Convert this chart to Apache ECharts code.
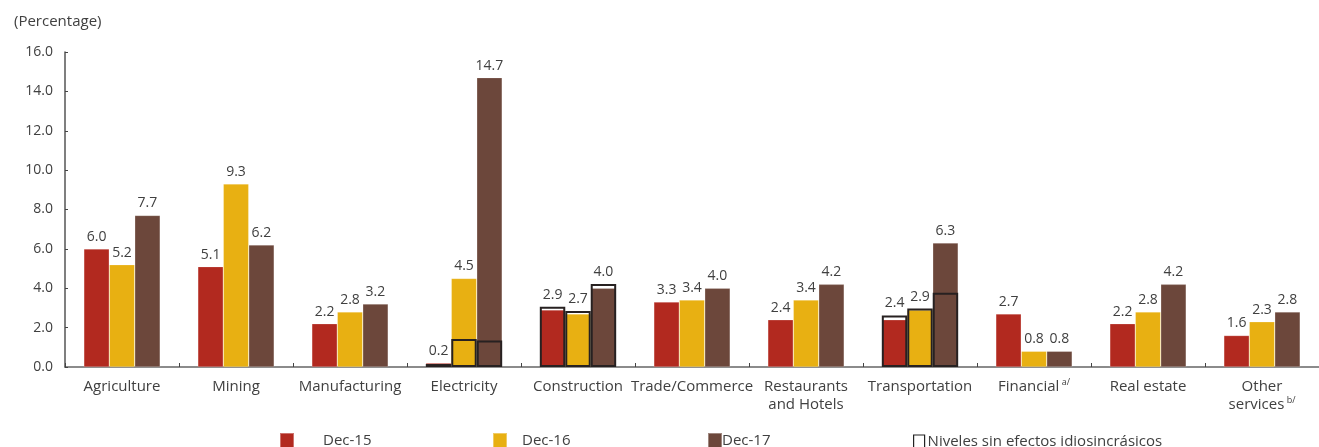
<!DOCTYPE html>
<html>
<head>
<meta charset="utf-8">
<script src="https://cdn.jsdelivr.net/npm/echarts@6/dist/echarts.min.js"></script>
<style>
  html, body { margin: 0; padding: 0; background: #fff; }
  #chart { width: 1319px; height: 447px; }
</style>
</head>
<body>
<div id="chart"></div>
<script>
// Sector categories (rich-text markers add the footnote superscripts)
var categories = [
  'Agriculture', 'Mining', 'Manufacturing', 'Electricity', 'Construction',
  'Trade/Commerce', 'Restaurants\nand Hotels', 'Transportation',
  'Financial{sup| a/}', 'Real estate', 'Other\nservices{sup| b/}'
];

// Percentage values per period
var dec15 = [6.0, 5.1, 2.2, 0.2, 2.9, 3.3, 2.4, 2.4, 2.7, 2.2, 1.6];
var dec16 = [5.2, 9.3, 2.8, 4.5, 2.7, 3.4, 3.4, 2.9, 0.8, 2.8, 2.3];
var dec17 = [7.7, 6.2, 3.2, 14.7, 4.0, 4.0, 4.2, 6.3, 0.8, 4.2, 2.8];

// Levels without idiosyncratic effects (only for some sectors)
var base15 = ['-', '-', '-', 0.15, 3.06, '-', '-', 2.62, '-', '-', '-'];
var base16 = ['-', '-', '-', 1.42, 2.84, '-', '-', 2.97, '-', '-', '-'];
var base17 = ['-', '-', '-', 1.34, 4.21, '-', '-', 3.77, '-', '-', '-'];

var yTicks = { min: 0, max: 16, interval: 2 };

var FONT = '"Open Sans", "Noto Sans", sans-serif';
var TXT = '#404040';
var colors = ['#B2291F', '#E8B012', '#6C473B'];
var boxName = 'Niveles sin efectos idiosincrásicos';

function fmt(v) { return Number(v).toFixed(1); }

// Bar label shown only when the bar is taller than its outline box
function barLabel(vals, box) {
  return function (p) {
    var b = box[p.dataIndex];
    if (b !== '-' && b > vals[p.dataIndex]) return '';
    return fmt(vals[p.dataIndex]);
  };
}
// Outline label carries the bar value when the outline is the taller mark
function boxLabel(vals, box) {
  return function (p) {
    var b = box[p.dataIndex];
    if (b === '-' || b <= vals[p.dataIndex]) return '';
    return fmt(vals[p.dataIndex]);
  };
}

var labelStyle = {
  show: true, position: 'top', distance: 5,
  fontFamily: FONT, fontSize: 14, color: TXT
};

function mainSeries(name, vals, box, color) {
  return {
    name: name, type: 'bar', xAxisIndex: 0,
    barGap: '0%', barCategoryGap: '33%',
    data: vals,
    itemStyle: { color: color, borderColor: 'rgba(255,255,255,0.35)', borderWidth: 0.6 },
    label: Object.assign({}, labelStyle, { formatter: barLabel(vals, box) }),
    z: 2
  };
}
function boxSeries(vals, box) {
  return {
    name: boxName, type: 'bar', xAxisIndex: 1,
    barGap: '0%', barCategoryGap: '33%',
    data: box,
    itemStyle: { color: 'rgba(0,0,0,0)', borderColor: '#272121', borderWidth: 2 },
    label: Object.assign({}, labelStyle, { formatter: boxLabel(vals, box) }),
    z: 5
  };
}

var chart = echarts.init(document.getElementById('chart'), null, { renderer: 'canvas' });

function legendItem(name, left, style, pad) {
  return {
    left: left, top: 432, itemWidth: 14, itemHeight: 16, padding: 0,
    icon: 'rect', selectedMode: false,
    data: [{ name: name, itemStyle: style }],
    textStyle: { fontFamily: FONT, fontSize: 15, color: TXT, padding: [2, 0, 0, pad] }
  };
}

chart.setOption({
  animation: false,
  title: {
    text: '(Percentage)', left: 9, top: 9,
    textStyle: { fontFamily: FONT, fontSize: 15, fontWeight: 'normal', color: TXT }
  },
  legend: [
    legendItem('Dec-15', 279, { color: colors[0] }, 24),
    legendItem('Dec-16', 492, { color: colors[1] }, 10),
    legendItem('Dec-17', 707, { color: colors[2] }, -5),
    {
      left: 913, top: 434, itemWidth: 11, itemHeight: 13, padding: 0,
      icon: 'rect', selectedMode: false,
      data: [{ name: boxName, itemStyle: { color: '#fff', borderColor: '#222', borderWidth: 1.2 } }],
      textStyle: { fontFamily: FONT, fontSize: 15, color: TXT, padding: [1, 0, 0, -2] }
    }
  ],
  grid: { left: 65, right: 0, top: 52, bottom: 80, containLabel: false },
  xAxis: [
    {
      type: 'category', data: categories,
      axisLine: { lineStyle: { color: '#666', width: 1.5 } },
      axisTick: { show: true, inside: true, length: 4, lineStyle: { color: '#444' } },
      axisLabel: {
        interval: 0, margin: 11, fontFamily: FONT, fontSize: 15, color: TXT, lineHeight: 18,
        rich: { sup: { fontSize: 9, verticalAlign: 'top', color: TXT, padding: [0, 0, 9, 0] } }
      }
    },
    { type: 'category', data: categories, show: false }
  ],
  yAxis: {
    type: 'value', min: yTicks.min, max: yTicks.max, interval: yTicks.interval,
    splitLine: { show: false },
    axisLine: { show: true, lineStyle: { color: '#555', width: 1.5 } },
    axisTick: { show: true, inside: true, length: 3, lineStyle: { color: '#444' } },
    axisLabel: { margin: 12, fontFamily: FONT, fontSize: 14, color: TXT, formatter: function (v) { return v.toFixed(1); } }
  },
  series: [
    mainSeries('Dec-15', dec15, base15, colors[0]),
    mainSeries('Dec-16', dec16, base16, colors[1]),
    mainSeries('Dec-17', dec17, base17, colors[2]),
    boxSeries(dec15, base15),
    boxSeries(dec16, base16),
    boxSeries(dec17, base17)
  ]
});
</script>
</body>
</html>
